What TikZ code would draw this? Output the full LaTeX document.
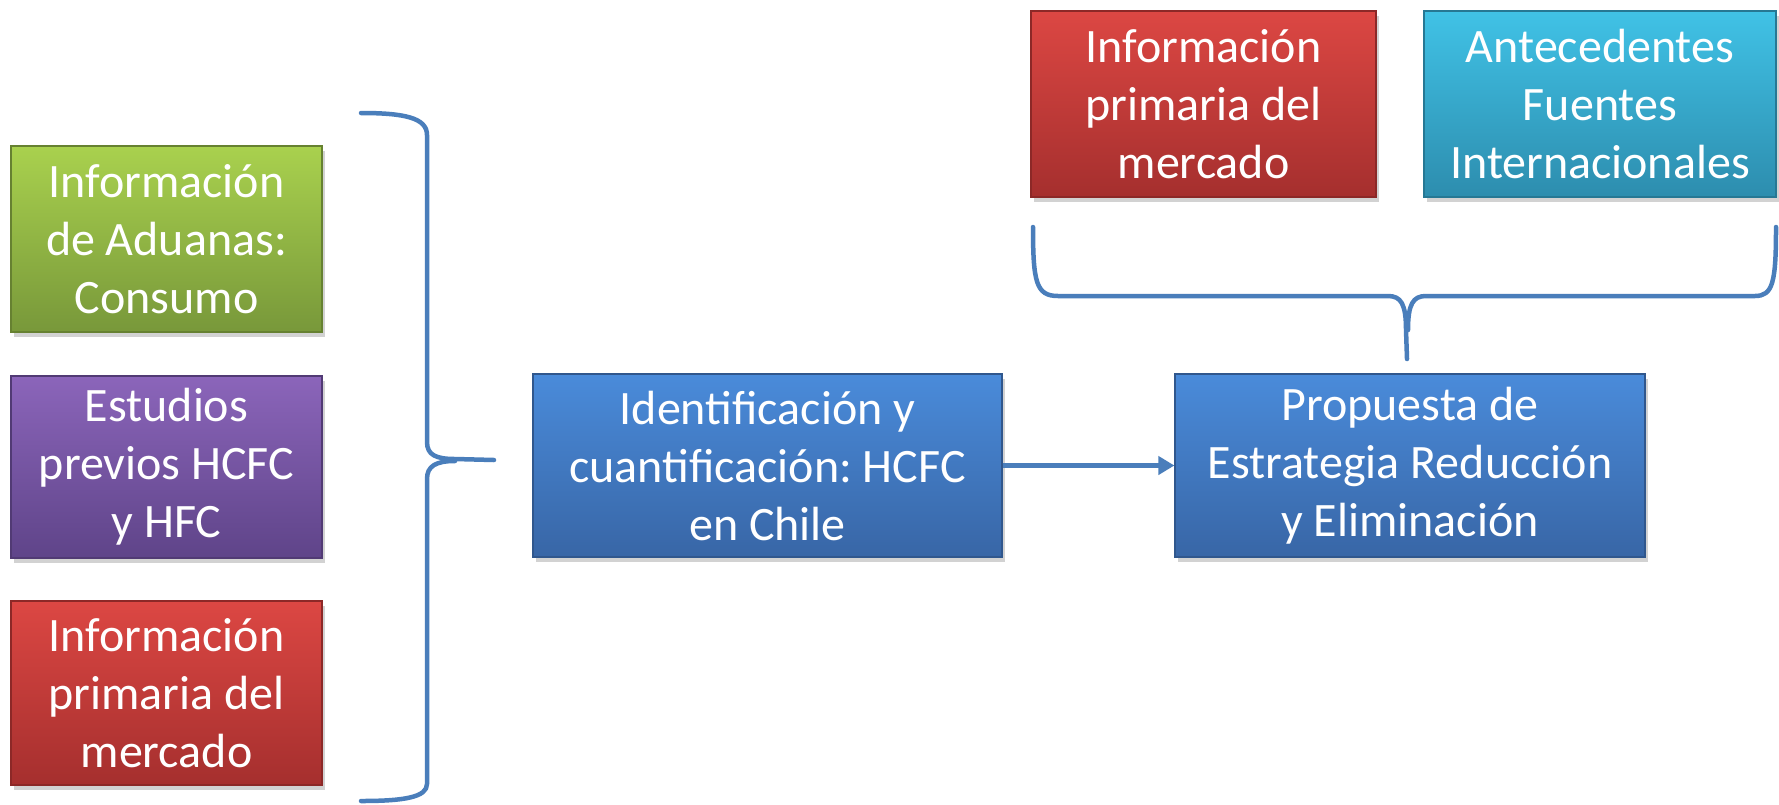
\documentclass[tikz,border=0pt]{standalone}
\usepackage{fontspec}
\setmainfont{Carlito}
\frenchspacing
\usetikzlibrary{shadows,arrows.meta}
\definecolor{brc}{HTML}{4A7EBB}
\definecolor{gT}{HTML}{A9D14E}\definecolor{gB}{HTML}{78983A}
\definecolor{pT}{HTML}{8B65BA}\definecolor{pB}{HTML}{5F4489}
\definecolor{rT}{HTML}{DC4743}\definecolor{rB}{HTML}{A52F2E}
\definecolor{bT}{HTML}{4A8BDA}\definecolor{bB}{HTML}{3866A6}
\definecolor{cT}{HTML}{40C2E6}\definecolor{cB}{HTML}{2D8DAE}
\tikzset{
  box/.style={rectangle, inner sep=0pt, align=center, text=white,
    font=\fontsize{48}{58}\selectfont, line width=1.2pt,
    drop shadow={shadow xshift=3pt, shadow yshift=-5pt, opacity=0.35}},
  greenbox/.style={box, top color=gT, bottom color=gB, draw=gB!85!black},
  purplebox/.style={box, top color=pT, bottom color=pB, draw=pB!85!black},
  redbox/.style={box, top color=rT, bottom color=rB, draw=rB!85!black},
  bluebox/.style={box, top color=bT, bottom color=bB, draw=bB!85!black},
  cyanbox/.style={box, top color=cT, bottom color=cB, draw=cB!85!black},
  brace/.style={draw=brc, line width=4.5pt, line cap=round, line join=round},
  conn/.style={draw=brc, line width=4.5pt, -{Triangle[length=16pt,width=18pt]}}
}
\begin{document}
\begin{tikzpicture}[x=1pt,y=-1pt]
\useasboundingbox (0,0) rectangle (1779,804);
\fill[white] (0,0) rectangle (1779,804);
% left column
\node[greenbox, minimum width=311pt, minimum height=186pt] (g) at (166.5,239) {Información\\de Aduanas:\\Consumo};
\node[purplebox, minimum width=311pt, minimum height=182pt] (p) at (166.5,467) {Estudios\\previos HCFC\\y HFC};
\node[redbox, minimum width=311pt, minimum height=184pt] (r1) at (166.5,693) {Información\\primaria del\\mercado};
% middle and right
\node[bluebox, minimum width=469pt, minimum height=183pt] (m) at (767.5,465.5) {Identificación y\\cuantificación: HCFC\\en Chile};
\node[bluebox, minimum width=470pt, minimum height=183pt] (s) at (1410,465.5) {Propuesta de\\Estrategia Reducción\\y Eliminación};
% top
\node[redbox, minimum width=345pt, minimum height=186pt] (r2) at (1203.5,104) {Información\\primaria del\\mercado};
\node[cyanbox, minimum width=352pt, minimum height=186pt] (c) at (1600,104) {Antecedentes\\Fuentes\\Internacionales};
% left brace
\coordinate (lbt) at (361,113);
\coordinate (lbb) at (361,801);
\coordinate (lbtip) at (494,460);
\path[brace] (lbt) .. controls (405,113) and (427,118) .. (427,135)
  -- (427,442) .. controls (427,455) and (436,459) .. (455,459) -- (lbtip)
  (455,461) .. controls (436,461) and (427,466) .. (427,479)
  -- (427,784) .. controls (427,797) and (405,801) .. (lbb);
% top brace
\coordinate (tbl) at (1033,227);
\coordinate (tbr) at (1776,227);
\coordinate (tbtip) at (1407,359);
\path[brace] (tbl) .. controls (1033,282) and (1036,296) .. (1058,296)
  -- (1388,296) .. controls (1401,296) and (1406,304) .. (1406,330) -- (tbtip)
  (1408,330) .. controls (1408,304) and (1413,296) .. (1426,296)
  -- (1755,296) .. controls (1773,296) and (1776,282) .. (tbr);
% arrow
\draw[conn] (m.east) -- (s.west);
\end{tikzpicture}
\end{document}
